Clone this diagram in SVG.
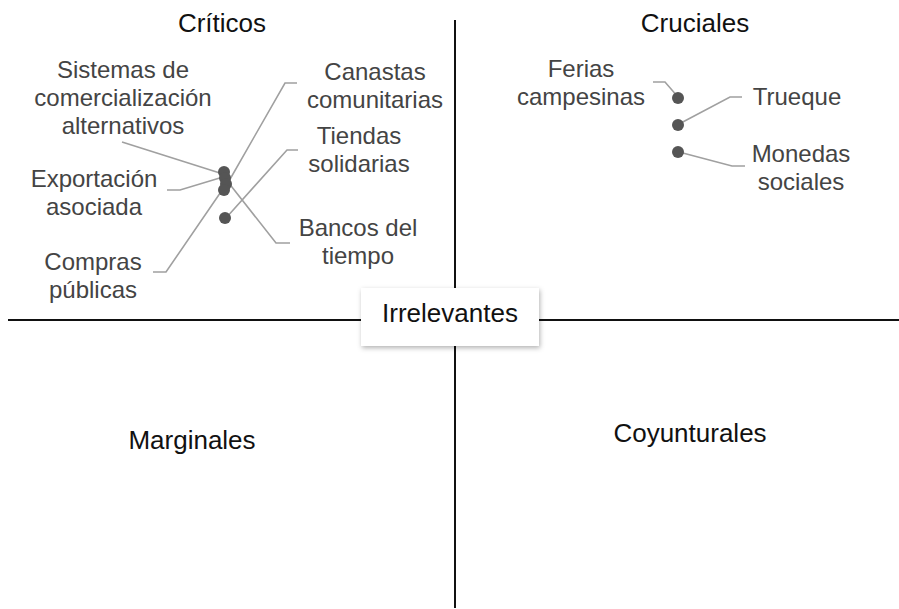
<svg xmlns="http://www.w3.org/2000/svg" width="899" height="609" viewBox="0 0 899 609">
  <defs>
    <filter id="shadow" x="-10%" y="-20%" width="130%" height="160%">
      <feDropShadow dx="1" dy="2" stdDeviation="2.5" flood-color="#000" flood-opacity="0.3"/>
    </filter>
  </defs>
  <style>
    .axis { stroke: #111; stroke-width: 2; fill: none; }
    .title { font-family: "Liberation Sans", Arial, sans-serif; font-size: 26px; fill: #111; text-anchor: middle; }
    .lbl { font-family: "Liberation Sans", Arial, sans-serif; font-size: 24px; fill: #444; text-anchor: middle; }
    .lead { stroke: #a0a0a0; stroke-width: 1.6; fill: none; }
    .dot { fill: #555; }
  </style>
  <rect width="899" height="609" fill="#fff"/>

  <g id="axes">
    <line class="axis" x1="455" y1="20" x2="455" y2="608"/>
    <line class="axis" x1="8" y1="320" x2="899" y2="320"/>
  </g>

  <g id="quadrant-titles">
    <text class="title" x="222" y="32">Críticos</text>
    <text class="title" x="695" y="32">Cruciales</text>
    <text class="title" x="192" y="449">Marginales</text>
    <text class="title" x="690" y="442">Coyunturales</text>
  </g>

  <g id="center-label">
    <rect x="361" y="288" width="178" height="58" fill="#fff" filter="url(#shadow)"/>
    <text class="title" x="450" y="322">Irrelevantes</text>
  </g>

  <g id="connectors">
    <polyline class="lead" points="122,142 223,174"/>
    <polyline class="lead" points="167,190 180,190 223,177"/>
    <polyline class="lead" points="297,83 285,83 229,181"/>
    <polyline class="lead" points="153,272 166,272 227,183"/>
    <polyline class="lead" points="298,150 287,150 226,218"/>
    <polyline class="lead" points="290,243 276,243 228,182"/>
    <polyline class="lead" points="653,82 665,82 678,97"/>
    <polyline class="lead" points="679,124 730,97 742,97"/>
    <polyline class="lead" points="679,152 732,166 745,166"/>
  </g>

  <g id="dots">
    <circle class="dot" cx="224" cy="172" r="6"/>
    <circle class="dot" cx="225" cy="178" r="6"/>
    <circle class="dot" cx="226" cy="184" r="6"/>
    <circle class="dot" cx="224" cy="190" r="6"/>
    <circle class="dot" cx="225" cy="218" r="6"/>
    <circle class="dot" cx="678" cy="98" r="6"/>
    <circle class="dot" cx="678" cy="125" r="6"/>
    <circle class="dot" cx="678" cy="152" r="6"/>
  </g>

  <g id="node-sistemas">
    <text class="lbl" x="123" y="78">Sistemas de</text>
    <text class="lbl" x="123" y="106">comercialización</text>
    <text class="lbl" x="123" y="134">alternativos</text>
  </g>
  <g id="node-exportacion">
    <text class="lbl" x="94" y="187">Exportación</text>
    <text class="lbl" x="94" y="215">asociada</text>
  </g>
  <g id="node-compras">
    <text class="lbl" x="93" y="270">Compras</text>
    <text class="lbl" x="93" y="298">públicas</text>
  </g>
  <g id="node-canastas">
    <text class="lbl" x="375" y="80">Canastas</text>
    <text class="lbl" x="375" y="108">comunitarias</text>
  </g>
  <g id="node-tiendas">
    <text class="lbl" x="359" y="144">Tiendas</text>
    <text class="lbl" x="359" y="172">solidarias</text>
  </g>
  <g id="node-bancos">
    <text class="lbl" x="358" y="236">Bancos del</text>
    <text class="lbl" x="358" y="264">tiempo</text>
  </g>
  <g id="node-ferias">
    <text class="lbl" x="581" y="77">Ferias</text>
    <text class="lbl" x="581" y="105">campesinas</text>
  </g>
  <g id="node-trueque">
    <text class="lbl" x="797" y="105">Trueque</text>
  </g>
  <g id="node-monedas">
    <text class="lbl" x="801" y="162">Monedas</text>
    <text class="lbl" x="801" y="190">sociales</text>
  </g>
</svg>
